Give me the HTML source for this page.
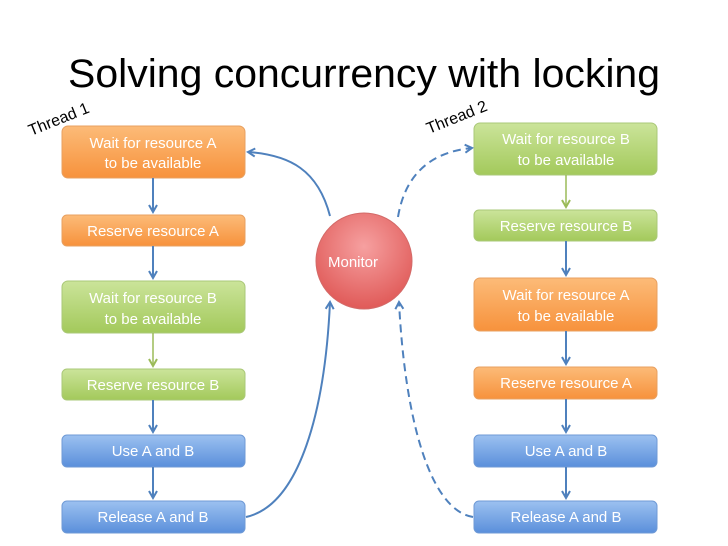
<!DOCTYPE html>
<html><head><meta charset="utf-8"><style>
html,body{margin:0;padding:0;background:#fff;width:728px;height:546px;overflow:hidden}
svg text{font-family:"Liberation Sans",sans-serif}
</style></head><body>
<svg width="728" height="546" viewBox="0 0 728 546" xmlns="http://www.w3.org/2000/svg">
<defs>
<linearGradient id="o" x1="0" y1="0" x2="0" y2="1"><stop offset="0" stop-color="#fcbb78"/><stop offset="1" stop-color="#f7923c"/></linearGradient>
<linearGradient id="g" x1="0" y1="0" x2="0" y2="1"><stop offset="0" stop-color="#cbe49a"/><stop offset="1" stop-color="#a3c95b"/></linearGradient>
<linearGradient id="b" x1="0" y1="0" x2="0" y2="1"><stop offset="0" stop-color="#9cc1f0"/><stop offset="1" stop-color="#5a8fdb"/></linearGradient>
<radialGradient id="r" cx="0.5" cy="0.35" r="0.65"><stop offset="0" stop-color="#f6a0a0"/><stop offset="1" stop-color="#e05a58"/></radialGradient>
<marker id="ah" markerWidth="10" markerHeight="10" refX="8" refY="5" orient="auto" markerUnits="userSpaceOnUse"><path d="M1,1 L8,5 L1,9" fill="none" stroke="#4f81bd" stroke-width="2"/></marker>
<marker id="ahg" markerWidth="10" markerHeight="10" refX="8" refY="5" orient="auto" markerUnits="userSpaceOnUse"><path d="M1,1 L8,5 L1,9" fill="none" stroke="#9bbb59" stroke-width="2"/></marker>
</defs>
<text x="68" y="87" font-size="40" textLength="592" lengthAdjust="spacingAndGlyphs" fill="#000">Solving concurrency with locking</text>
<text x="0" y="0" font-size="16" transform="translate(31,136) rotate(-22)">Thread 1</text>
<text x="0" y="0" font-size="16" transform="translate(429,134) rotate(-22)">Thread 2</text>

<g stroke-width="1" font-size="15" fill="#fff" text-anchor="middle">
<rect x="62" y="126" width="183" height="52" rx="6" fill="url(#o)" stroke="#e8a060"/>
<text x="153" y="148" fill="#fff" stroke="none">Wait for resource A</text><text x="153" y="168" fill="#fff" stroke="none">to be available</text>
<rect x="62" y="215" width="183" height="31" rx="5" fill="url(#o)" stroke="#e8a060"/>
<text x="153" y="236" fill="#fff" stroke="none">Reserve resource A</text>
<rect x="62" y="281" width="183" height="52" rx="6" fill="url(#g)" stroke="#aac878"/>
<text x="153" y="303" fill="#fff" stroke="none">Wait for resource B</text><text x="153" y="324" fill="#fff" stroke="none">to be available</text>
<rect x="62" y="369" width="183" height="31" rx="5" fill="url(#g)" stroke="#aac878"/>
<text x="153" y="390" fill="#fff" stroke="none">Reserve resource B</text>
<rect x="62" y="435" width="183" height="32" rx="5" fill="url(#b)" stroke="#6f9ad6"/>
<text x="153" y="456" fill="#fff" stroke="none">Use A and B</text>
<rect x="62" y="501" width="183" height="32" rx="5" fill="url(#b)" stroke="#6f9ad6"/>
<text x="153" y="522" fill="#fff" stroke="none">Release A and B</text>
<rect x="474" y="123" width="183" height="52" rx="6" fill="url(#g)" stroke="#aac878"/>
<text x="566" y="144" fill="#fff" stroke="none">Wait for resource B</text><text x="566" y="165" fill="#fff" stroke="none">to be available</text>
<rect x="474" y="210" width="183" height="31" rx="5" fill="url(#g)" stroke="#aac878"/>
<text x="566" y="231" fill="#fff" stroke="none">Reserve resource B</text>
<rect x="474" y="278" width="183" height="53" rx="6" fill="url(#o)" stroke="#e8a060"/>
<text x="566" y="300" fill="#fff" stroke="none">Wait for resource A</text><text x="566" y="321" fill="#fff" stroke="none">to be available</text>
<rect x="474" y="367" width="183" height="32" rx="5" fill="url(#o)" stroke="#e8a060"/>
<text x="566" y="388" fill="#fff" stroke="none">Reserve resource A</text>
<rect x="474" y="435" width="183" height="32" rx="5" fill="url(#b)" stroke="#6f9ad6"/>
<text x="566" y="456" fill="#fff" stroke="none">Use A and B</text>
<rect x="474" y="501" width="183" height="32" rx="5" fill="url(#b)" stroke="#6f9ad6"/>
<text x="566" y="522" fill="#fff" stroke="none">Release A and B</text>
</g>

<circle cx="364" cy="261" r="48" fill="url(#r)" stroke="#d36a68" stroke-width="1"/>
<text x="353" y="267" font-size="15" fill="#fff" text-anchor="middle">Monitor</text>

<g fill="none" stroke="#4f81bd" stroke-width="2">
<line x1="153" y1="178" x2="153" y2="212" marker-end="url(#ah)"/>
<line x1="153" y1="246" x2="153" y2="278" marker-end="url(#ah)"/>
<line x1="153" y1="400" x2="153" y2="432" marker-end="url(#ah)"/>
<line x1="153" y1="467" x2="153" y2="498" marker-end="url(#ah)"/>
<line x1="566" y1="241" x2="566" y2="275" marker-end="url(#ah)"/>
<line x1="566" y1="331" x2="566" y2="364" marker-end="url(#ah)"/>
<line x1="566" y1="399" x2="566" y2="432" marker-end="url(#ah)"/>
<line x1="566" y1="467" x2="566" y2="498" marker-end="url(#ah)"/>
<path d="M330,216 C318,170 290,155 248,152" marker-end="url(#ah)"/>
<path d="M398,217 C405,175 430,152 472,148" stroke-dasharray="8,5" marker-end="url(#ah)"/>
<path d="M246,517 C300,505 325,410 330,302" marker-end="url(#ah)"/>
<path d="M473,517 C430,510 405,420 399,302" stroke-dasharray="8,5" marker-end="url(#ah)"/>
</g>
<line x1="153" y1="333" x2="153" y2="366" stroke="#9bbb59" stroke-width="1.5" marker-end="url(#ahg)"/>
<line x1="566" y1="175" x2="566" y2="207" stroke="#9bbb59" stroke-width="1.5" marker-end="url(#ahg)"/>
</svg>
</body></html>
